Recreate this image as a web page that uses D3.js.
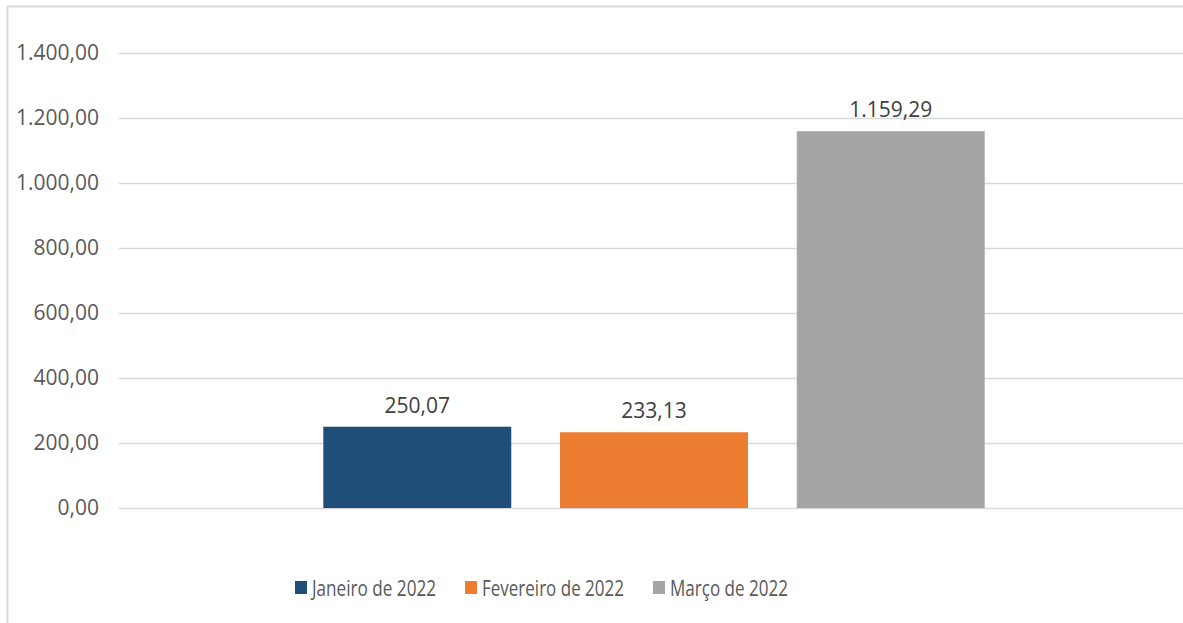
<!DOCTYPE html>
<html lang="pt">
<head>
<meta charset="utf-8">
<title>2022</title>
<script src="https://cdn.jsdelivr.net/npm/d3@7"></script>
<style>
  body { margin: 0; background: #fff; }
  svg text { font-family: "Open Sans", "Noto Sans", sans-serif; }
</style>
</head>
<body>
<script>
// data
var series = ["Janeiro de 2022", "Fevereiro de 2022", "Março de 2022"];
var values = [250.07, 233.13, 1159.29];
var colors = ["#1F4E79", "#ED7D31", "#A5A5A5"];
var yTicks = [0, 200, 400, 600, 800, 1000, 1200, 1400];

var W = 1183, H = 623;
var svg = d3.select("body").append("svg").attr("width", W).attr("height", H);

// outer frame (right/bottom fall outside the picture)
svg.append("rect")
  .attr("x", 7.5).attr("y", 6.5)
  .attr("width", W + 20).attr("height", H + 20)
  .attr("fill", "none").attr("stroke", "#D9D9D9").attr("stroke-width", 2);

var y = d3.scaleLinear().domain([0, 1400]).range([508, 53]);
var x = d3.scaleBand().domain(series).range([119, 1189])
  .paddingInner(0.206).paddingOuter(0.863);

var fmt = function (v) {
  var s = d3.format(",.2f")(v);
  return s.replace(/,/g, "#").replace(".", ",").replace(/#/g, ".");
};

// gridlines + tick labels
var yAxis = d3.axisLeft(y).tickValues(yTicks).tickSize(-(W - 119)).tickPadding(20).tickFormat(fmt);
var gy = svg.append("g").attr("transform", "translate(119,0)").call(yAxis);
gy.select(".domain").remove();
gy.selectAll(".tick line").attr("stroke", "#D9D9D9").attr("stroke-width", 1.5);
gy.selectAll(".tick text").attr("fill", "#595959").style("font-size", "21px");

// bars
svg.append("g").selectAll("rect").data(values).enter().append("rect")
  .attr("x", function (d, i) { return x(series[i]); })
  .attr("y", function (d) { return y(d); })
  .attr("width", x.bandwidth())
  .attr("height", function (d) { return y(0) - y(d); })
  .attr("fill", function (d, i) { return colors[i]; });

// data labels
svg.append("g").selectAll("text").data(values).enter().append("text")
  .attr("x", function (d, i) { return x(series[i]) + x.bandwidth() / 2; })
  .attr("y", function (d) { return y(d) - 14; })
  .attr("text-anchor", "middle")
  .attr("fill", "#404040")
  .style("font-size", "21px")
  .text(fmt);

// legend (text is narrow in the original, so squeeze it)
var legX = [295, 465, 653];
var legW = [124, 142, 118];
var leg = svg.append("g").selectAll("g").data(series).enter().append("g")
  .attr("transform", function (d, i) { return "translate(" + legX[i] + ",581)"; });
leg.append("rect").attr("width", 12).attr("height", 13)
  .attr("fill", function (d, i) { return colors[i]; });
leg.append("text").attr("x", 17).attr("y", 15)
  .attr("fill", "#595959").style("font-size", "21px")
  .attr("textLength", function (d, i) { return legW[i]; })
  .attr("lengthAdjust", "spacingAndGlyphs")
  .text(function (d) { return d; });
</script>
</body>
</html>
